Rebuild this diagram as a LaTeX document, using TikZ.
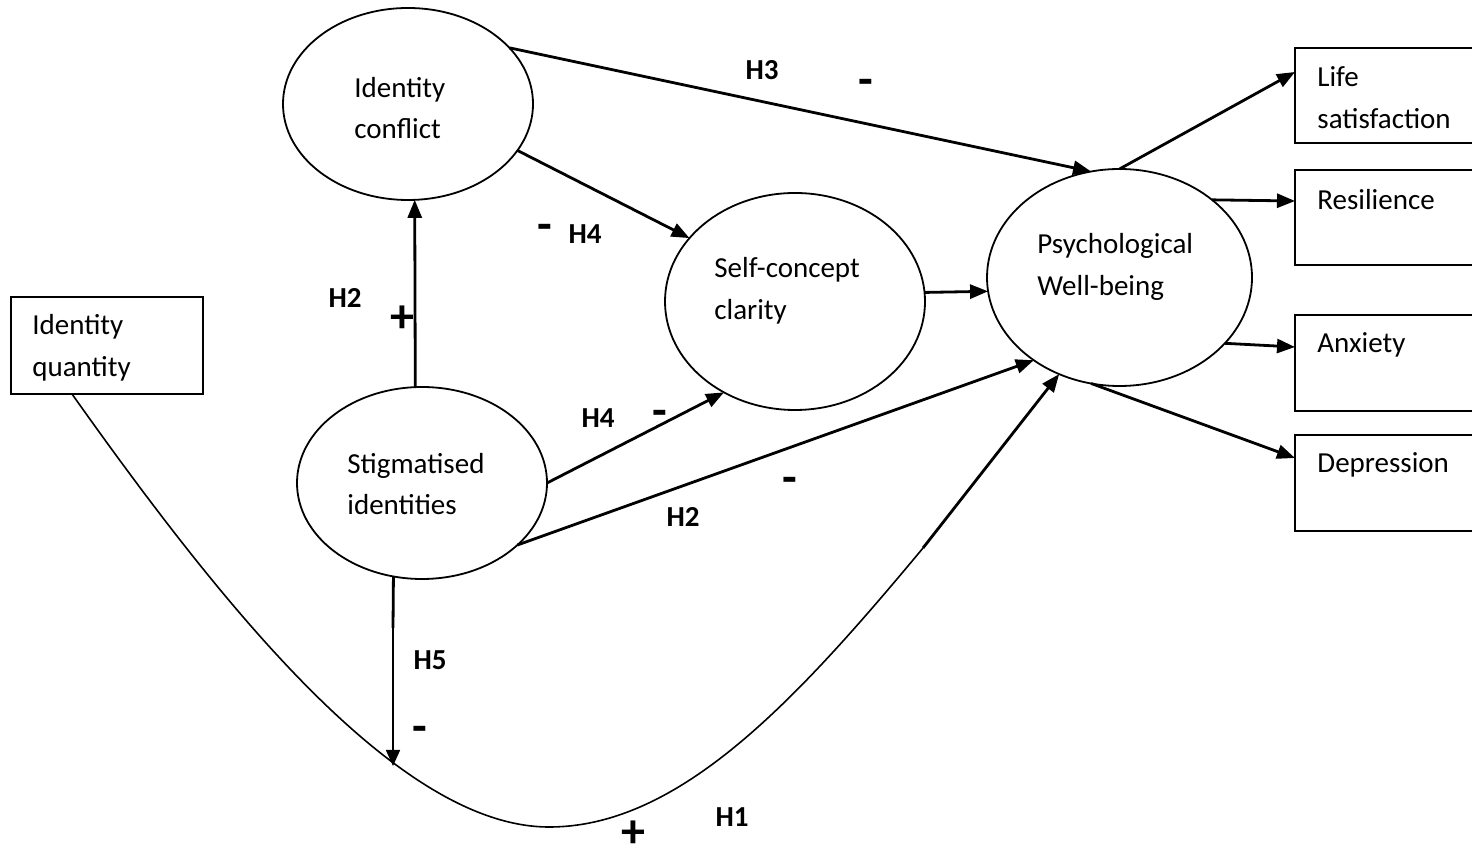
\documentclass[tikz,border=0pt]{standalone}
\usepackage{fontspec}
\setmainfont{Carlito}
\usetikzlibrary{arrows.meta,shapes.geometric}
\begin{document}
\begin{tikzpicture}[x=0.5pt,y=-0.5pt,
  lat/.style={ellipse,draw,line width=0.9pt,inner sep=0pt,outer sep=0pt},
  obs/.style={rectangle,draw,line width=1pt,inner sep=0pt,outer sep=0pt},
  txt/.style={anchor=west,align=left,inner sep=0pt,font=\fontsize{14.5}{20.75}\selectfont},
  lbl/.style={inner sep=0pt,font=\fontsize{14.5}{17}\selectfont\bfseries},
  sgn/.style={inner sep=0pt,font=\fontsize{24}{28}\selectfont\bfseries},
  arr/.style={-{Triangle[length=9pt,width=7pt]},line width=1.4pt},
  thinarr/.style={-{Triangle[length=8pt,width=7pt]},line width=0.8pt}]
\useasboundingbox (0,0) rectangle (1472,854);
\clip (0,0) rectangle (1472,854);
\fill[white] (0,0) rectangle (1472,854);
% latent variables
\node[lat,minimum width=125pt,minimum height=96pt] (ic) at (408,104) {};
\node[lat,minimum width=125pt,minimum height=96pt] (stig) at (422,483) {};
\node[lat,minimum width=130pt,minimum height=108.5pt] (scc) at (795,301.5) {};
\node[lat,minimum width=132.5pt,minimum height=108.5pt] (pwb) at (1119.5,277.5) {};
% observed boxes
\node[obs,minimum width=96pt,minimum height=48.5pt] (iq) at (107,345.5) {};
\node[obs,minimum width=92.5pt,minimum height=47.5pt] (life) at (1387.5,95.5) {};
\node[obs,minimum width=92.5pt,minimum height=47.5pt] (res) at (1387.5,217.5) {};
\node[obs,minimum width=92.5pt,minimum height=48pt] (anx) at (1387.5,363) {};
\node[obs,minimum width=92.5pt,minimum height=48pt] (dep) at (1387.5,483) {};
% texts
\node[txt] (ict) at (354,108) {Identity\\conflict};
\node[txt] (stigt) at (347,484) {Stigmatised\\identities};
\node[txt] (scct) at (714,291) {Self-concept\\clarity};
\node[txt] (pwbt) at (1037,267) {Psychological\\Well-being};
\node[txt] (iqt) at (32,348) {Identity\\quantity};
\node[txt] (lifet) at (1317,97.5) {Life\\satisfaction};
\node[txt] (rest) at (1317,200) {Resilience};
\node[txt] (anxt) at (1317,345) {Anxiety};
\node[txt] (dept) at (1317,465) {Depression};
% connectors
\draw[arr] (stig.94) -- (ic.-86);
\draw[arr] (ic.-23.6) -- (scc.149.2);
\draw[arr] (ic.29.1) -- (pwb.105.1);
\draw[arr] (stig.0) -- (scc.232.9);
\draw[arr] (stig.-33.1) -- (pwb.-136.3);
\draw[arr] (scc.4) -- (pwb.186);
\draw[arr] (pwb.90.8) -- ([yshift=-12pt]life.north west);
\draw[arr] (pwb.40.8) -- ([yshift=-15.5pt]res.north west);
\draw[arr] (pwb.-32.5) -- ([yshift=-16pt]anx.north west);
\draw[arr] (pwb.-105) -- ([yshift=-11.5pt]dep.north west);
% H1 curve
\coordinate (h1k) at (923,548);
\draw[line width=0.8pt] ([xshift=30.5pt]iq.south west) .. controls (223,607) and (399,827) .. (549,827) .. controls (679,827) and (795,702) .. (h1k);
\draw[arr] (h1k) -- (pwb.-122.2);
% H5
\coordinate (h5k) at (393,628);
\coordinate (h5e) at (393,766);
\draw[line width=1.4pt] (stig.-107) -- (h5k);
\draw[thinarr] (h5k) -- (h5e);
% labels
\node[lbl] (lh3) at (762,70) {H3};
\node[sgn] (sh3) at (866,87) {-};
\node[sgn] (sh4a) at (545,232) {-};
\node[lbl] (lh4a) at (585,234) {H4};
\node[lbl] (lh2a) at (345,298) {H2};
\node[sgn] (sh2a) at (402,319) {+};
\node[lbl] (lh4b) at (598,418) {H4};
\node[sgn] (sh4b) at (660,418) {-};
\node[sgn] (sh2b) at (790,485) {-};
\node[lbl] (lh2b) at (683,517) {H2};
\node[lbl] (lh5) at (430,660) {H5};
\node[sgn] (sh5) at (420,734) {-};
\node[lbl] (lh1) at (732,817) {H1};
\node[sgn] (sh1) at (633,834) {+};
\end{tikzpicture}
\end{document}
